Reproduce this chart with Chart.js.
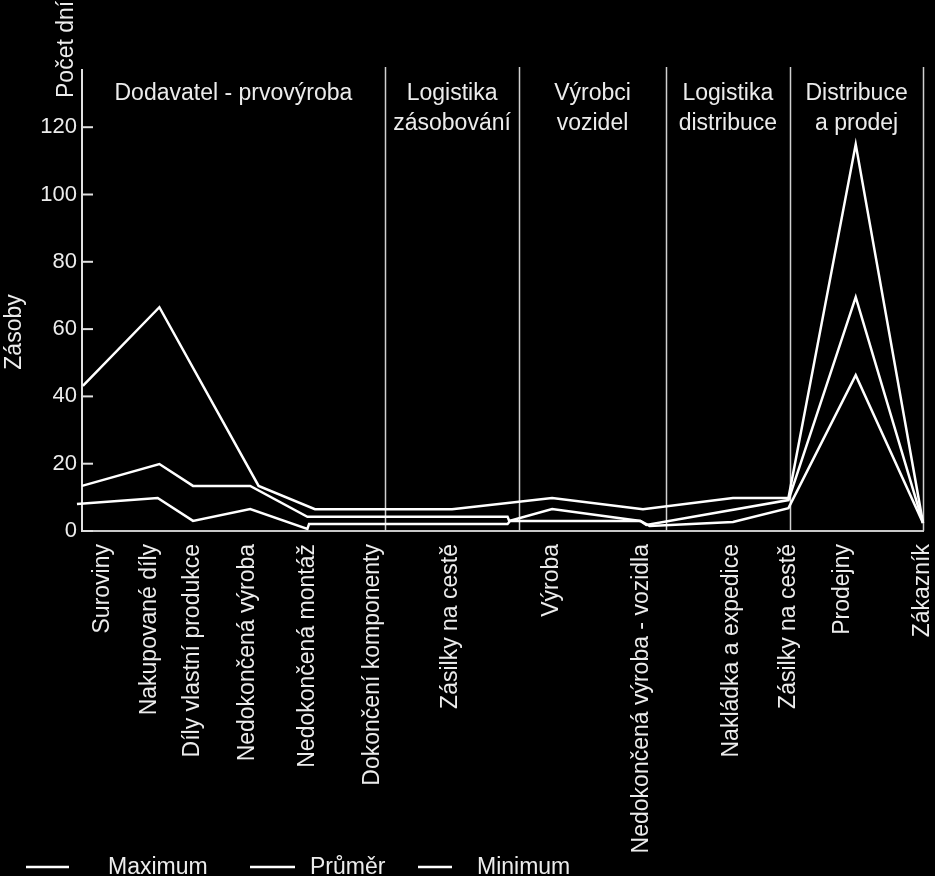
<!doctype html>
<html lang="cs">
<head>
<meta charset="utf-8">
<title>Zásoby v dodavatelském řetězci</title>
<style>
  *{box-sizing:border-box;margin:0;padding:0}
  html,body{background:#000;width:935px;height:876px;overflow:hidden}
  .wrap{position:relative;width:935px;height:876px}
</style>
</head>
<body>
<div class="wrap"><canvas id="chart"></canvas></div>

<script src="https://cdn.jsdelivr.net/npm/chart.js"></script>
<script>
// categories along the chain and where their labels sit (0..100 along the chain)
const categories = ['Suroviny','Nakupované díly','Díly vlastní produkce','Nedokončená výroba','Nedokončená montáž',
  'Dokončení komponenty','Zásilky na cestě','Výroba','Nedokončená výroba - vozidla','Nakládka a expedice',
  'Zásilky na cestě','Prodejny','Zákazník'];
const categoryPos = [2.5, 8.1, 13.2, 19.7, 26.8, 34.6, 43.8, 55.9, 66.6, 77.3, 84.0, 90.4, 99.9];

// sections of the chain (header lines) and their right borders
const sections = [['Dodavatel - prvovýroba'],['Logistika','zásobování'],['Výrobci','vozidel'],['Logistika','distribuce'],['Distribuce','a prodej']];
const sectionEnds = [36.0, 52.0, 69.4, 84.2, 100];

const yTicks = [0, 20, 40, 60, 80, 100, 120];

// series: position along the chain / days of stock
const maxX = [0.1, 9.2, 21.0, 27.7, 44.0, 55.9, 66.7, 77.4, 84.0, 92.0, 100];
const maxY = [43.1, 66.5, 13.4, 6.5, 6.5, 9.8, 6.5, 9.8, 9.8, 114.9, 2.4];
const avgX = [0, 9.2, 13.2, 20.0, 26.8, 50.6, 50.8, 55.9, 66.4, 67.1, 84.0, 92.0, 100];
const avgY = [13.4, 19.9, 13.4, 13.4, 4.2, 4.2, 3.0, 6.5, 3.0, 1.8, 9.2, 69.5, 2.4];
const minX = [-0.6, 9.0, 13.2, 20.0, 26.8, 27.0, 50.6, 50.9, 66.4, 67.5, 77.4, 84.0, 92.0, 100];
const minY = [8.0, 9.8, 3.0, 6.5, 0.6, 2.1, 2.1, 3.0, 3.0, 1.5, 2.7, 6.8, 46.3, 2.4];

const FONT = "'Liberation Sans', Arial, sans-serif";
const TXT = '#ececec';

const pts = (xs, ys) => xs.map((x, i) => ({x, y: ys[i]}));
const line = (label, data) => ({label, data, borderColor:'#fff', borderWidth:2.5, pointRadius:0,
  tension:0, borderJoinStyle:'miter', clip:false, fill:false});

const decor = {
  id:'decor',
  beforeDatasetsDraw(c){
    const {ctx, chartArea:a, scales:{x, y}} = c;
    ctx.save();
    // section borders
    ctx.strokeStyle = '#d0d0d0'; ctx.lineWidth = 1.5;
    sectionEnds.forEach(v => {
      const px = Math.round(x.getPixelForValue(v)) + 0.5;
      ctx.beginPath(); ctx.moveTo(px, a.top - 3); ctx.lineTo(px, a.bottom); ctx.stroke();
    });
    // inward tick marks on y axis
    ctx.strokeStyle = '#e0e0e0'; ctx.lineWidth = 2;
    yTicks.forEach(v => {
      const py = y.getPixelForValue(v);
      ctx.beginPath(); ctx.moveTo(a.left, py); ctx.lineTo(a.left + 11, py); ctx.stroke();
    });
    // section headers
    ctx.fillStyle = TXT; ctx.font = '23px ' + FONT; ctx.textAlign = 'center'; ctx.textBaseline = 'alphabetic';
    let prev = 0;
    sections.forEach((s, i) => {
      const cx = (x.getPixelForValue(prev) + x.getPixelForValue(sectionEnds[i])) / 2;
      s.forEach((t, j) => ctx.fillText(t, cx, a.top + 30 + j * 30));
      prev = sectionEnds[i];
    });
    // axis titles
    ctx.save(); ctx.translate(67, a.top + 28); ctx.rotate(-Math.PI / 2);
    ctx.textAlign = 'left'; ctx.textBaseline = 'middle'; ctx.fillText('Počet dní', 0, 0); ctx.restore();
    ctx.save(); ctx.translate(15, 332); ctx.rotate(-Math.PI / 2);
    ctx.textAlign = 'center'; ctx.textBaseline = 'middle'; ctx.fillText('Zásoby', 0, 0); ctx.restore();
    // legend
    const lg = [[26, 69, 108], [250, 295, 310], [418, 452, 477]];
    ctx.textAlign = 'left'; ctx.textBaseline = 'alphabetic';
    c.data.datasets.forEach((d, i) => {
      const [x0, x1, tx] = lg[i];
      ctx.strokeStyle = d.borderColor; ctx.lineWidth = 2.5;
      ctx.beginPath(); ctx.moveTo(x0, 867); ctx.lineTo(x1, 867); ctx.stroke();
      ctx.fillText(d.label, tx, 874);
    });
    ctx.restore();
  }
};

new Chart(document.getElementById('chart'), {
  type:'line',
  data:{datasets:[
    line('Maximum', pts(maxX, maxY)),
    line('Průměr', pts(avgX, avgY)),
    line('Minimum', pts(minX, minY))
  ]},
  options:{
    responsive:true, maintainAspectRatio:false, animation:false,
    layout:{padding:{top:70, right:12, bottom:0, left:0}},
    plugins:{legend:{display:false}, tooltip:{enabled:false}},
    scales:{
      x:{type:'linear', min:0, max:100,
        grid:{display:false, drawTicks:false},
        border:{display:true, color:'#c8c8c8', width:2},
        afterBuildTicks:s => { s.ticks = categoryPos.map(v => ({value:v})); },
        afterFit:s => { s.height = 345; s.paddingLeft = 0; s.paddingRight = 0; },
        ticks:{autoSkip:false, minRotation:90, maxRotation:90, padding:13, color:TXT,
          font:{family:FONT, size:23}, callback:(v, i) => categories[i]}
      },
      y:{min:0, max:137,
        grid:{display:false, drawTicks:false},
        border:{display:true, color:'#e0e0e0', width:2},
        afterBuildTicks:s => { s.ticks = yTicks.map(v => ({value:v})); },
        afterFit:s => { s.width = 82; },
        ticks:{padding:5, color:TXT, font:{family:FONT, size:22}}
      }
    }
  },
  plugins:[decor]
});
</script>
</body>
</html>
